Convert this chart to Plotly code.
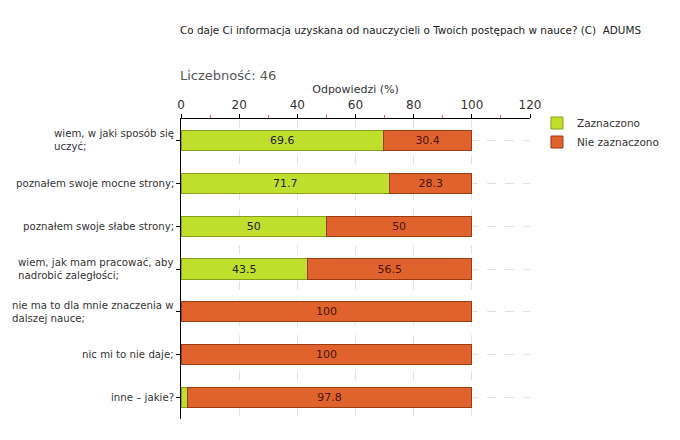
import plotly.graph_objects as go

categories = [
    "wiem, w jaki sposób się<br>uczyć;",
    "poznałem swoje mocne strony;",
    "poznałem swoje słabe strony;",
    "wiem, jak mam pracować, aby<br>nadrobić zaległości;",
    "nie ma to dla mnie znaczenia w<br>dalszej nauce;",
    "nic mi to nie daje;",
    "inne – jakie?",
]
zaznaczono = [69.6, 71.7, 50, 43.5, 0, 0, 2.2]
nie_zaznaczono = [30.4, 28.3, 50, 56.5, 100, 100, 97.8]
tick_vals = [0, 20, 40, 60, 80, 100, 120]

FONT = "DejaVu Sans, Verdana, sans-serif"

def lbl(vals):
    return [("%g" % v) if v >= 5 else "" for v in vals]

fig = go.Figure()
fig.add_trace(go.Bar(
    y=categories, x=zaznaczono, orientation="h", name="Zaznaczono",
    marker=dict(color="#bfdf2c", line=dict(color="#86a01c", width=1)),
    text=lbl(zaznaczono), textposition="inside", insidetextanchor="middle",
    textfont=dict(color="#222222", size=11, family=FONT),
    width=0.47,
))
fig.add_trace(go.Bar(
    y=categories, x=nie_zaznaczono, orientation="h", name="Nie zaznaczono",
    marker=dict(color="#e0632e", line=dict(color="#9c3a12", width=1)),
    text=lbl(nie_zaznaczono), textposition="inside", insidetextanchor="middle",
    textfont=dict(color="#4a1400", size=11, family=FONT),
    width=0.47,
))

fig.update_layout(
    width=672, height=432,
    margin=dict(l=173, r=150, t=111, b=21, autoexpand=False),
    paper_bgcolor="white", plot_bgcolor="white",
    barmode="stack", bargap=0.53,
    font=dict(family=FONT, size=11, color="#333333"),
    showlegend=True,
    legend=dict(x=1.02, y=1.035, xanchor="left", yanchor="top",
                font=dict(size=10.5, color="#333333", family=FONT),
                itemwidth=30, tracegroupgap=0, traceorder="normal",
                bgcolor="rgba(0,0,0,0)"),
)
for c in categories:
    fig.add_annotation(
        x=0, xref="paper", xanchor="right", xshift=-5,
        y=c, yref="y", yanchor="middle",
        text=c, showarrow=False, align="left",
        font=dict(size=10.2, color="#333333", family=FONT),
    )
fig.add_annotation(x=0, xref="paper", xanchor="left", xshift=-3, y=1, yref="paper",
                   yanchor="middle", yshift=89,
                   text="Co daje Ci informacja uzyskana od nauczycieli o Twoich postępach w nauce? (C)  ADUMS",
                   showarrow=False, font=dict(size=10.4, color="#222222", family=FONT))
fig.add_annotation(x=0, xref="paper", xanchor="left", xshift=-3, y=1, yref="paper",
                   yanchor="middle", yshift=44,
                   text="Liczebność: 46",
                   showarrow=False, font=dict(size=13, color="#555555", family=FONT))

fig.update_xaxes(
    side="top", range=[0, 120], tickvals=tick_vals,
    ticks="outside", ticklen=4, tickcolor="#000000",
    showline=True, linecolor="#000000", linewidth=1,
    showgrid=True, gridcolor="#e0e0e0", griddash="dash", gridwidth=1,
    zeroline=False,
    tickfont=dict(size=12, color="#333333", family=FONT),
    title=dict(text="Odpowiedzi (%)", font=dict(size=11, color="#333333", family=FONT), standoff=2),
    minor=dict(dtick=10, tick0=10, ticks="outside", ticklen=3, tickcolor="#e06060", showgrid=False),
)
fig.update_yaxes(
    autorange="reversed", showticklabels=False,
    ticks="outside", ticklen=4, tickcolor="#000000",
    showline=True, linecolor="#000000", linewidth=1,
    showgrid=True, gridcolor="#e0e0e0", griddash="dash", gridwidth=1,
    zeroline=False,
)

fig.write_html("out.html")
